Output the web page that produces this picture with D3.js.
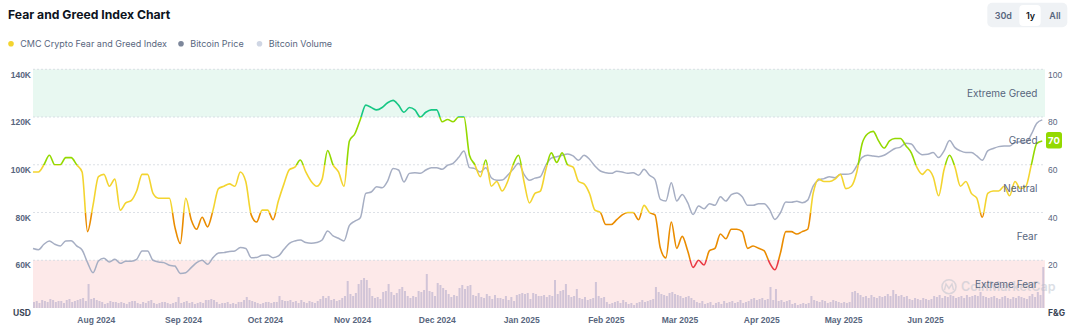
<!DOCTYPE html>
<html><head><meta charset="utf-8">
<script src="https://cdn.jsdelivr.net/npm/d3@7"></script>
<style>
body{margin:0;background:#fff;}
svg{font-family:Inter,"Noto Sans",sans-serif;display:block;}
</style></head><body>
<svg id="chart" width="1084" height="331"></svg>
<script>
// ---------- DATA ----------
const seriesStart = "2024-07-09";   // first sample
const seriesStepDays = 2;            // F&G and price sampled every 2 days
const fearGreed = [57,57,60,64,60,60,63,63,60,57,32,43,55,56,51,54,41,44,45,49,56,56,48,46,46,46,34,27,46,37,33,38,34,41,50,51,52,51,57,53,39,36,41,41,37,45,52,58,
59,62,57,53,51,54,66,60,57,51,70,73,79,85,84,83,84,86,87,85,82,84,83,80,82,83,83,78,79,78,80,80,64,60,55,62,51,53,49,53,60,64,53,44,48,49,
58,65,61,65,60,59,53,52,48,41,40,35,35,37,39,40,40,37,43,40,39,25,21,36,25,30,24,17,20,18,24,25,31,29,33,33,32,25,26,25,24,19,16,23,32,32,31,
32,33,48,54,53,53,54,56,50,51,57,69,73,74,70,67,70,71,71,68,65,59,56,58,55,47,58,64,59,51,53,48,46,38,48,49,49,51,47,53,50,51,60,69,70];
const btcPriceK = [64.9,64.4,66.7,68.1,66.7,66.0,68.1,68.2,66.0,64.3,59.0,54.8,59.7,60.8,59.3,60.4,58.7,59.6,59.6,60.4,63.9,63.9,60.0,59.3,59.0,57.9,57.6,54.5,54.8,56.9,59.0,60.0,58.3,61.1,63.0,63.2,63.7,63.9,65.3,64.9,61.1,61.2,62.1,62.2,61.1,61.8,64.6,67.1,
68.1,68.5,67.4,67.1,67.4,68.5,72.3,70.2,69.2,68.1,74.6,76.4,77.8,88.0,88.6,90.8,90.4,93.2,98.4,97.8,92.8,96.4,96.7,96.4,97.8,98.8,98.8,98.1,99.8,100.6,103.0,105.8,98.8,98.4,97.0,98.8,94.6,93.5,93.6,95.6,98.1,100.6,96.0,93.5,94.4,95.0,
99.8,102.8,103.4,104.0,104.5,103.7,101.9,104.0,102.3,99.5,97.4,96.7,96.4,97.3,97.0,96.4,96.7,95.6,98.1,95.6,93.9,85.5,84.8,92.5,84.8,87.6,84.1,79.2,82.7,81.6,83.7,83.0,86.6,84.8,87.5,88.2,86.6,83.0,83.0,83.7,83.7,81.3,77.1,79.9,84.4,84.3,84.7,
84.1,85.2,91.1,93.6,94.2,95.0,94.6,96.0,96.0,96.4,99.5,103.1,104.0,103.7,103.4,104.0,105.4,106.8,107.4,109.0,108.7,105.8,104.2,104.4,105.1,103.0,105.8,110.2,107.2,105.8,105.1,105.1,103.7,101.9,105.8,106.8,107.6,107.9,107.9,109.3,109.6,109.3,112.8,117.4,118.8];
const volumeStart = "2024-07-09";    // daily volume, billions USD
const btcVolumeB = [18,21,15,24,21,18,27,24,18,21,21,15,24,27,18,21,24,27,30,21,72,27,30,24,21,18,12,15,21,18,18,
15,18,15,12,18,21,21,15,12,18,15,21,24,15,12,15,18,18,15,12,15,18,33,15,18,21,15,18,12,15,18,15,24,24,27,24,
18,12,15,15,18,12,15,12,18,18,24,33,24,21,18,15,12,15,18,18,15,18,18,36,24,21,21,24,
18,21,15,24,18,15,21,18,15,21,27,36,30,36,24,27,21,24,30,36,81,42,36,45,72,84,90,84,60,36,30,33,27,48,51,72,48,39,
45,57,63,51,36,30,36,33,51,48,54,102,51,48,36,75,69,60,54,42,33,39,36,60,69,57,66,69,39,36,45,33,30,42,36,27,39,30,
30,27,36,24,33,21,39,42,45,42,45,27,45,42,36,36,39,33,39,36,84,42,51,54,72,39,33,36,57,30,27,33,24,27,30,78,36,30,33,
18,12,15,18,21,15,24,18,12,15,9,15,18,24,18,21,24,27,63,48,42,39,36,45,48,42,39,36,30,33,36,30,
24,18,15,21,12,15,18,9,15,18,12,21,15,18,21,15,18,24,15,18,21,27,30,24,27,30,24,27,63,24,57,21,24,18,21,24,
12,15,9,12,15,12,15,36,24,21,18,24,21,15,18,24,21,18,15,18,15,18,48,51,45,39,33,36,30,39,33,30,36,33,36,42,36,54,
42,36,39,33,36,27,24,30,27,24,30,27,24,27,36,33,39,30,36,33,39,36,30,33,36,30,39,33,36,39,36,48,36,33,30,
33,36,30,27,33,36,30,27,33,30,36,33,30,27,36,42,33,48,39,123];
const priceTicksK = [60,80,100,120,140];
const fgTicks = [20,40,60,80,100];
const monthLabelDates = ["2024-08-01","2024-09-02","2024-10-02","2024-11-03","2024-12-04","2025-01-04","2025-02-04","2025-03-03","2025-04-02","2025-05-02","2025-06-01"];
const zoneNames = ["Extreme Greed","Greed","Neutral","Fear","Extreme Fear"];
const zoneMid = [90,70,50,30,10];
const zoneColors = ["#16c784","#93d900","#f3d42f","#ea8c00","#ea3943"];
const legendNames = ["CMC Crypto Fear and Greed Index","Bitcoin Price","Bitcoin Volume"];
const legendColors = ["#f3d42f","#7d879b","#cfd6e4"];
const rangeButtons = ["30d","1y","All"];

// ---------- CHART ----------
const parse = d3.utcParse("%Y-%m-%d");
const svg = d3.select("#chart");
const L = 33, R = 1045, T = 69.3, B = 308;
const t0 = parse(seriesStart);
const x = d3.scaleUtc().domain([t0, d3.utcDay.offset(t0, 371)]).range([L, R]);
const yFG = d3.scaleLinear().domain([0,100]).range([B, T]);
const yP = d3.scaleLinear().domain([40,140]).range([B, T]);
const yV = d3.scaleLinear().domain([0,144]).range([B, B-48]);

const fgData = fearGreed.map((v,i)=>({d:d3.utcDay.offset(t0,i*seriesStepDays), v}));
const pData = btcPriceK.map((v,i)=>({d:d3.utcDay.offset(t0,i*seriesStepDays), v}));
const v0 = parse(volumeStart);
const vData = btcVolumeB.map((v,i)=>({d:d3.utcDay.offset(v0,i), v}));

// title
svg.append("text").attr("x",8).attr("y",19.3).attr("font-size",12.2).attr("font-weight",700).attr("fill","#0d1421").text("Fear and Greed Index Chart");

// legend
const legG = svg.append("g");
const legX = [11,181,259.5];
legendNames.forEach((n,i)=>{
  legG.append("circle").attr("cx",legX[i]).attr("cy",43.7).attr("r",2.8).attr("fill",legendColors[i]);
  legG.append("text").attr("x",legX[i]+9.3).attr("y",47).attr("font-size",9).attr("fill","#58667e").text(n);
});

// range buttons
svg.append("rect").attr("x",987.3).attr("y",2.7).attr("width",80).attr("height",24.6).attr("rx",5).attr("fill","#eff2f5");
svg.append("rect").attr("x",1019.3).attr("y",5).attr("width",21.4).attr("height",21).attr("rx",4).attr("fill","#fff");
const bx = [1003.3,1030.5,1055];
rangeButtons.forEach((b,i)=>{
  svg.append("text").attr("x",bx[i]).attr("y",19.2).attr("text-anchor","middle").attr("font-size",9)
    .attr("font-weight",600).attr("fill", i===1?"#0d1421":"#58667e").text(b);
});

// zone bands
svg.append("rect").attr("x",L).attr("width",R-L).attr("y",yFG(100)).attr("height",yFG(80)-yFG(100)).attr("fill","#e8f8f1");
svg.append("rect").attr("x",L).attr("width",R-L).attr("y",yFG(20)).attr("height",yFG(0)-yFG(20)).attr("fill","#fde9e9");

// grid
svg.append("g").selectAll("line").data(fgTicks).join("line")
  .attr("x1",L).attr("x2",R).attr("y1",d=>yFG(d)).attr("y2",d=>yFG(d))
  .attr("stroke","#d3d8df").attr("stroke-dasharray","2,2").attr("stroke-width",0.8);

// volume bars
svg.append("g").selectAll("rect").data(vData).join("rect")
  .attr("x",d=>x(d.d)).attr("width",2)
  .attr("y",d=>yV(d.v)).attr("height",d=>B-yV(d.v)).attr("fill","#d1c4d7");

// watermark (sits behind the zone label, as in the source)
const wm = svg.append("g").attr("opacity",0.5);
wm.append("circle").attr("cx",949).attr("cy",286.7).attr("r",7).attr("fill","none").attr("stroke","#b9c0cc").attr("stroke-width",1.6);
wm.append("path").attr("d","M944.5,290 L946,284 L949,288.5 L952,284 L953.5,290").attr("fill","none").attr("stroke","#b9c0cc").attr("stroke-width",1.4);
wm.append("text").attr("x",961).attr("y",291).attr("font-size",12.5).attr("font-weight",600).attr("fill","#b9c0cc").text("CoinMarketCap");

// price line
svg.append("path").datum(pData).attr("fill","none").attr("stroke","#a6aec3").attr("stroke-width",1.5)
  .attr("d", d3.line().x(d=>x(d.d)).y(d=>yP(d.v)).curve(d3.curveMonotoneX));

// F&G gradient line
const grad = svg.append("defs").append("linearGradient").attr("id","fgGrad")
  .attr("gradientUnits","userSpaceOnUse").attr("x1",0).attr("x2",0).attr("y1",yFG(100)).attr("y2",yFG(0));
const bounds = [100,80,60,40,20,0];
zoneColors.forEach((c,i)=>{
  grad.append("stop").attr("offset",(100-bounds[i])/100).attr("stop-color",c);
  grad.append("stop").attr("offset",(100-bounds[i+1])/100).attr("stop-color",c);
});
svg.append("path").datum(fgData).attr("fill","none").attr("stroke","url(#fgGrad)").attr("stroke-width",1.6)
  .attr("d", d3.line().x(d=>x(d.d)).y(d=>yFG(d.v)).curve(d3.curveMonotoneX));

// zone labels
svg.append("g").selectAll("text").data(zoneNames).join("text")
  .attr("x",1037.5).attr("y",(d,i)=>yFG(zoneMid[i])).attr("dy","0.35em").attr("text-anchor","end")
  .attr("font-size",10).attr("fill","#58667e").text(d=>d);

// axes
const axL = svg.append("g").attr("transform",`translate(${L},0)`)
  .call(d3.axisLeft(yP).tickValues(priceTicksK).tickFormat(d=>d+"K").tickSize(0).tickPadding(2));
axL.select(".domain").remove();
axL.selectAll("text").attr("y",5).attr("font-size",8.5).attr("font-weight",600).attr("fill","#58667e").attr("font-family",null);

const axR = svg.append("g").attr("transform",`translate(${R},0)`)
  .call(d3.axisRight(yFG).tickValues(fgTicks).tickSize(0).tickPadding(3));
axR.select(".domain").remove();
axR.selectAll("text").attr("y",5).attr("font-size",8.5).attr("font-weight",500).attr("fill","#58667e").attr("font-family",null);

const axB = svg.append("g").attr("transform",`translate(0,${B})`)
  .call(d3.axisBottom(x).tickValues(monthLabelDates.map(parse)).tickFormat(d3.utcFormat("%b %Y")).tickSize(0).tickPadding(9));
axB.select(".domain").remove();
axB.selectAll("text").attr("font-size",8.5).attr("font-weight",600).attr("fill","#58667e").attr("font-family",null);

svg.append("text").attr("x",13).attr("y",316.3).attr("font-size",8.5).attr("font-weight",700).attr("fill","#3a4556").text("USD");
svg.append("text").attr("x",1048).attr("y",316.3).attr("font-size",8.5).attr("font-weight",700).attr("fill","#3a4556").text("F&G");

// last value badge
const last = fgData[fgData.length-1];
const lastColor = zoneColors[last.v>=80?0:last.v>=60?1:last.v>=40?2:last.v>=20?3:4];
svg.append("rect").attr("x",1046).attr("y",yFG(last.v)-9).attr("width",16).attr("height",16.5).attr("rx",2.5).attr("fill",lastColor);
svg.append("text").attr("x",1054).attr("y",yFG(last.v)).attr("dy","0.35em").attr("text-anchor","middle")
  .attr("font-size",9.5).attr("font-weight",700).attr("fill","#fff").text(last.v);
</script>
</body></html>
